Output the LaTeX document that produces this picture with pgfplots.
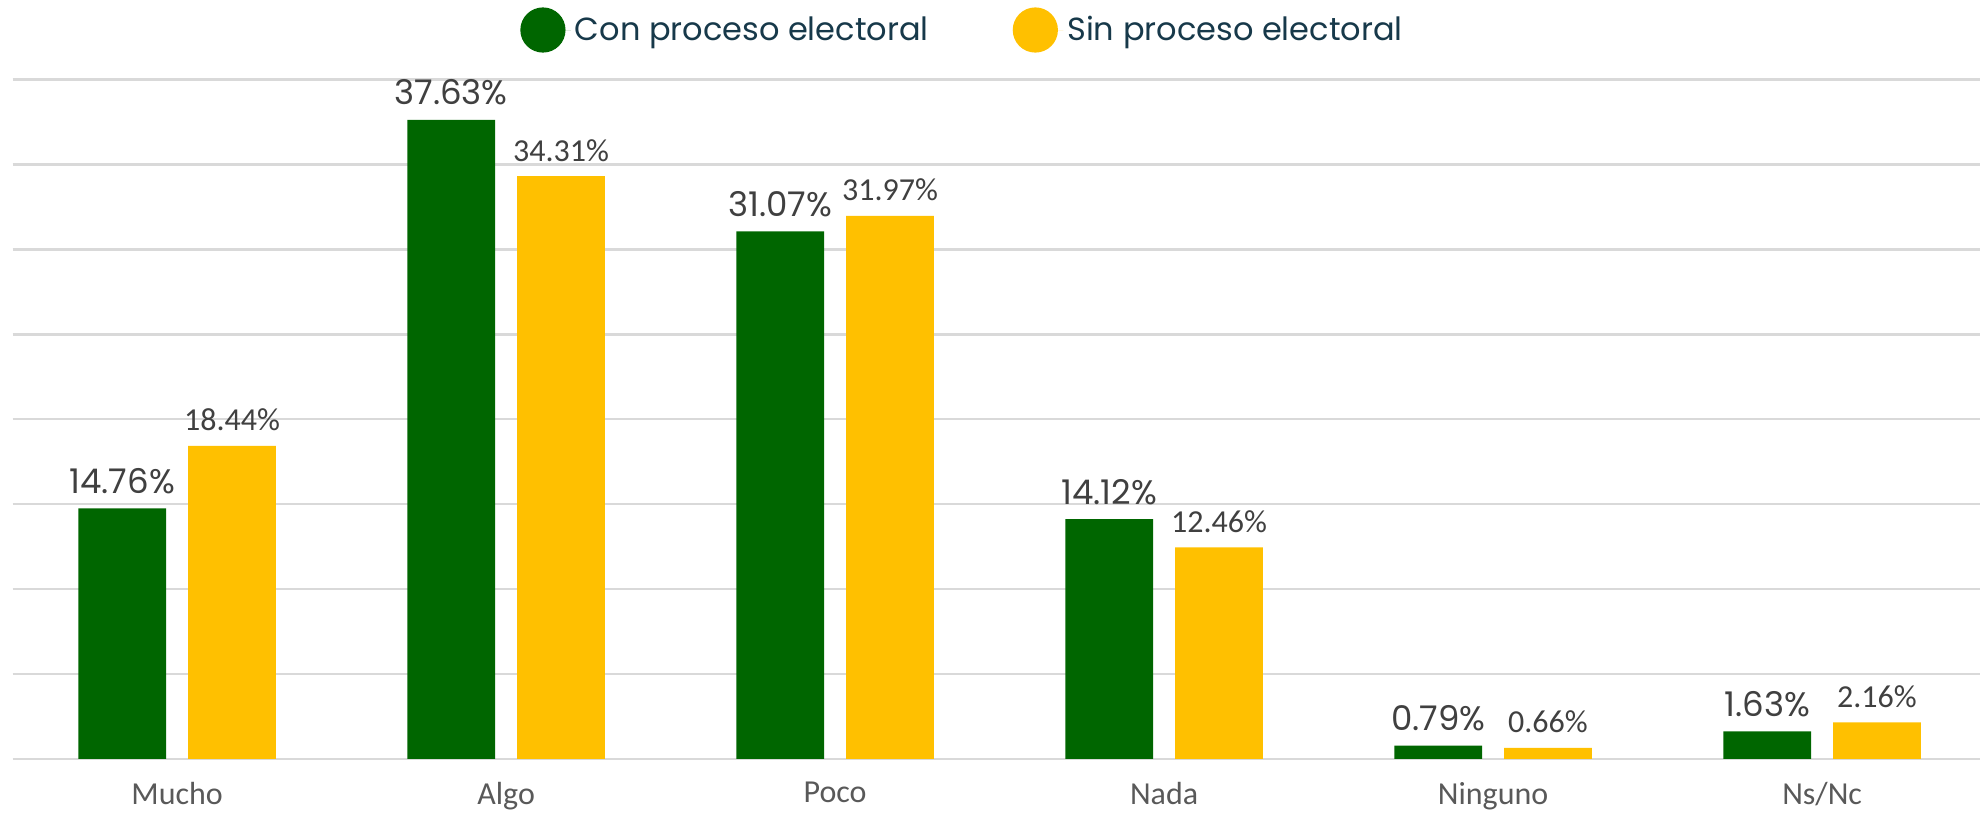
\documentclass[border=0pt]{standalone}
\usepackage{pgfplots}
\pgfplotsset{compat=1.18}
\usepackage{fontspec}
\setmainfont{Carlito}
\newfontfamily\mont{Poppins}
\definecolor{cgreen}{HTML}{006600}
\definecolor{cyellow}{HTML}{FFC000}
\definecolor{cgrid}{HTML}{D9D9D9}
\definecolor{clabel}{HTML}{404040}
\definecolor{ccat}{HTML}{595959}
\definecolor{cleg}{HTML}{17394A}
\begin{document}
\begin{tikzpicture}
\begin{axis}[
  at={(6.3pt,27pt)}, anchor=south west,
  scale only axis,
  width=983.7pt, height=339.7pt,
  ymin=0, ymax=40,
  xmin=-0.5, xmax=5.48,
  ytick={0,5,...,40},
  yticklabels={},
  ymajorgrids,
  grid style={cgrid, line width=1.2pt},
  axis line style={draw=none},
  major tick length=0pt,
  xtick={0,1,2,3,4,5},
  xticklabels={Mucho,Algo,Poco,Nada,Ninguno,Ns/Nc},
  xticklabel style={font=\fontsize{16}{16}\selectfont, text=ccat, anchor=north, yshift=-8pt},
  ybar,
  bar width=0.2665,
  nodes near coords,
  legend columns=2,
  legend style={at={(0.4833,1.073)}, anchor=center, draw=none, fill=none,
    font=\mont\fontsize{16}{16}\selectfont, text=cleg,
    /tikz/every even column/.append style={column sep=40pt}},
  legend image code/.code={\fill[#1] (0pt,0pt) circle (11.3pt); \path (-11.3pt,0pt) -- (14pt,0pt);},
]
\addplot[fill=cgreen, draw=none, bar shift=-0.1668,
  nodes near coords={\pgfmathprintnumber[fixed,fixed zerofill,precision=2,assume math mode=true]{\pgfplotspointmeta}\%},
  every node near coord/.append style={font=\mont\fontsize{17}{17}\selectfont, text=clabel, anchor=base, inner sep=0pt, yshift=7.5pt}]
  coordinates {(0,14.76) (1,37.63) (2,31.07) (3,14.12) (4,0.79) (5,1.63)};
\addlegendentry{Con proceso electoral}
\addplot[fill=cyellow, draw=none, bar shift=0.1668,
  nodes near coords={\pgfmathprintnumber[fixed,fixed zerofill,precision=2,assume math mode=true]{\pgfplotspointmeta}\%},
  every node near coord/.append style={font=\fontsize{16}{16}\selectfont, text=clabel, anchor=base, inner sep=0pt, yshift=7.5pt}]
  coordinates {(0,18.44) (1,34.31) (2,31.97) (3,12.46) (4,0.66) (5,2.16)};
\addlegendentry{Sin proceso electoral}
\end{axis}
\pgfresetboundingbox
\path[use as bounding box] (0,0) rectangle (990pt,406.5pt);
\end{tikzpicture}
\end{document}
